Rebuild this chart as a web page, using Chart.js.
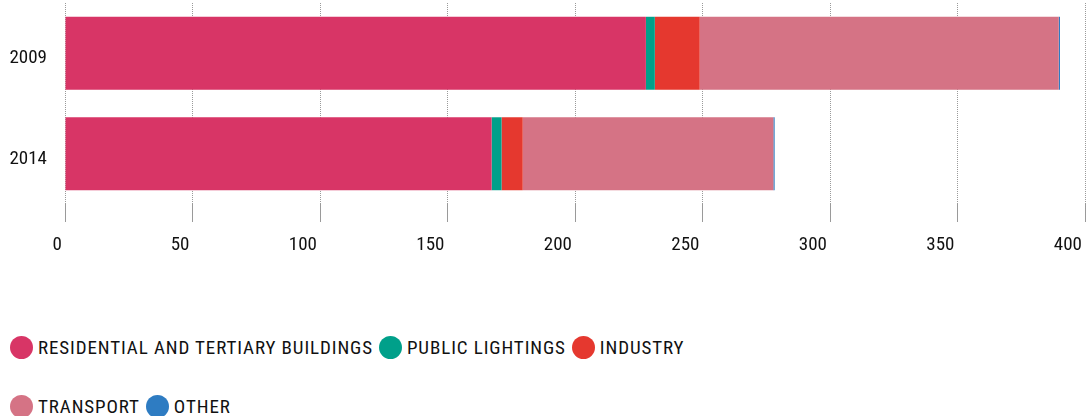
<!DOCTYPE html>
<html>
<head>
<meta charset="utf-8">
<script src="https://cdn.jsdelivr.net/npm/chart.js@4/dist/chart.umd.min.js"></script>
<style>
    html, body { margin: 0; padding: 0; background: #fff; }
    body { width: 1086px; height: 416px; overflow: hidden;
           font-family: "Roboto Condensed", "Liberation Sans Narrow", Roboto, sans-serif; }
    #wrap { position: relative; width: 1086px; height: 260px; }
    #legend { display: flex; flex-wrap: wrap; width: 760px; margin: 76px 0 0 10px; row-gap: 37px; }
    .item { display: flex; align-items: center; margin-right: 6px; font-size: 19px;
            letter-spacing: 0.9px; color: #111; height: 22px; }
    .dot { width: 23px; height: 23px; border-radius: 50%; margin-right: 5px; }
</style>
</head>
<body>
<div id="wrap"><canvas id="chart"></canvas></div>
<div id="legend"></div>

<script>
/* --------------------------
   DATA
-------------------------- */
const years = ["2009", "2014"];
const residential = [227.8, 167.3];
const publicLighting = [3.5, 3.9];
const industry = [17.6, 8.3];
const transport = [140.8, 98.3];
const other = [0.5, 0.5];
const xTicks = [0, 50, 100, 150, 200, 250, 300, 350, 400];

const FONT = "'Roboto Condensed', 'Liberation Sans Narrow', Roboto, sans-serif";

const series = [
    { label: "RESIDENTIAL AND TERTIARY BUILDINGS", data: residential, color: "#d83566" },
    { label: "PUBLIC LIGHTINGS", data: publicLighting, color: "#00a08a" },
    { label: "INDUSTRY", data: industry, color: "#e5382f" },
    { label: "TRANSPORT", data: transport, color: "#d57385" },
    { label: "OTHER", data: other, color: "#2e7cc2" }
];

/* --------------------------
   CHART
-------------------------- */
const chart = new Chart(document.getElementById("chart"), {
    type: "bar",
    data: {
        labels: years,
        datasets: series.map(s => ({
            label: s.label,
            data: s.data,
            backgroundColor: s.color,
            borderWidth: 0,
            barPercentage: 1,
            categoryPercentage: 0.726
        }))
    },
    options: {
        indexAxis: "y",
        responsive: true,
        maintainAspectRatio: false,
        animation: false,
        layout: { padding: { top: 3, right: 1, bottom: 3, left: 0 } },
        plugins: {
            legend: { display: false },
            tooltip: { enabled: false }
        },
        scales: {
            x: {
                stacked: true,
                min: 0,
                max: 400,
                afterBuildTicks: axis => { axis.ticks = xTicks.map(v => ({ value: v })); },
                afterFit: axis => {
                    axis.paddingLeft = 0;
                    axis.paddingRight = 0;
                    axis.height = 53;
                },
                border: { display: false, dash: [1, 1] },
                grid: {
                    color: "#9a9a9a",
                    lineWidth: 1,
                    tickLength: 18
                },
                ticks: {
                    align: "end",
                    labelOffset: -3,
                    padding: 12,
                    color: "#111",
                    font: { family: FONT, size: 19 }
                }
            },
            y: {
                stacked: true,
                afterFit: axis => {
                    axis.paddingTop = 0;
                    axis.paddingBottom = 0;
                    axis.width = 65;
                },
                border: { display: false },
                grid: { display: false, drawTicks: false },
                ticks: {
                    padding: 18,
                    labelOffset: 5,
                    color: "#111",
                    font: { family: FONT, size: 19 }
                }
            }
        }
    }
});

/* --------------------------
   LEGEND
-------------------------- */
const legend = document.getElementById("legend");
chart.data.datasets.forEach(ds => {
    const item = document.createElement("div");
    item.className = "item";
    const dot = document.createElement("span");
    dot.className = "dot";
    dot.style.background = ds.backgroundColor;
    const txt = document.createElement("span");
    txt.textContent = ds.label;
    item.appendChild(dot);
    item.appendChild(txt);
    legend.appendChild(item);
});
</script>
</body>
</html>
